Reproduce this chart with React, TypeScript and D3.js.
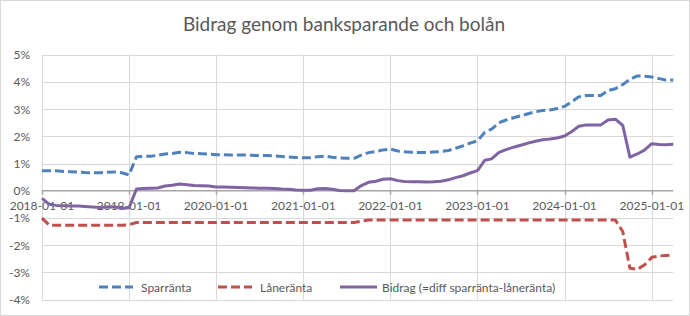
import * as d3 from "d3";
import { useEffect, useRef } from "react";

// months Jan 2018 .. Apr 2025
const months = d3.timeMonth.range(new Date(2018, 0, 1), new Date(2025, 4, 1));

const sparranta = [
  0.73, 0.73, 0.73, 0.71, 0.7, 0.69, 0.67, 0.66, 0.66, 0.68, 0.69, 0.66,
  0.58, 1.25, 1.26, 1.27, 1.3, 1.35, 1.37, 1.41, 1.4, 1.37, 1.36, 1.35,
  1.32, 1.32, 1.31, 1.31, 1.31, 1.3, 1.29, 1.29, 1.28, 1.26, 1.24, 1.22,
  1.21, 1.21, 1.25, 1.27, 1.23, 1.2, 1.19, 1.19, 1.31, 1.4, 1.44, 1.5,
  1.53, 1.46, 1.43, 1.41, 1.4, 1.4, 1.42, 1.44, 1.48, 1.56, 1.65, 1.75,
  1.83, 2.15, 2.26, 2.5, 2.6, 2.68, 2.75, 2.83, 2.9, 2.95, 2.97, 3.02,
  3.1, 3.28, 3.45, 3.5, 3.5, 3.5, 3.68, 3.75, 3.9, 4.09, 4.22, 4.21,
  4.18, 4.12, 4.07, 4.07,
];

const laneranta = [
  -1.01, -1.27, -1.27, -1.27, -1.27, -1.27, -1.27, -1.27, -1.27, -1.27, -1.27, -1.27,
  -1.25, -1.17, -1.17, -1.17, -1.17, -1.17, -1.17, -1.17, -1.17, -1.17, -1.17, -1.17,
  -1.17, -1.17, -1.17, -1.17, -1.17, -1.17, -1.17, -1.17, -1.17, -1.17, -1.17, -1.17,
  -1.17, -1.17, -1.17, -1.17, -1.17, -1.17, -1.17, -1.17, -1.12, -1.08, -1.08, -1.08,
  -1.08, -1.08, -1.08, -1.08, -1.08, -1.08, -1.08, -1.08, -1.08, -1.08, -1.08, -1.08,
  -1.08, -1.08, -1.08, -1.08, -1.08, -1.08, -1.08, -1.08, -1.08, -1.08, -1.08, -1.08,
  -1.08, -1.08, -1.08, -1.08, -1.08, -1.08, -1.08, -1.08, -1.5, -2.85, -2.89, -2.73,
  -2.45, -2.4, -2.38, -2.36,
];

const bidrag = [
  -0.28, -0.5, -0.54, -0.55, -0.56, -0.56, -0.58, -0.6, -0.62, -0.6, -0.59, -0.65,
  -0.63, 0.06, 0.08, 0.09, 0.1, 0.17, 0.2, 0.25, 0.22, 0.19, 0.18, 0.17,
  0.14, 0.14, 0.13, 0.12, 0.11, 0.1, 0.09, 0.09, 0.08, 0.06, 0.05, 0.03,
  0.02, 0.02, 0.07, 0.08, 0.05, 0.01, 0.0, 0.0, 0.19, 0.31, 0.35, 0.42,
  0.44, 0.37, 0.34, 0.33, 0.33, 0.32, 0.33, 0.35, 0.4, 0.48, 0.55, 0.65,
  0.74, 1.12, 1.17, 1.41, 1.51, 1.6, 1.67, 1.75, 1.82, 1.87, 1.9, 1.94,
  2.01, 2.18, 2.37, 2.42, 2.42, 2.42, 2.6, 2.63, 2.4, 1.23, 1.35, 1.49,
  1.73, 1.7, 1.69, 1.71,
];

const yTicks = [-4, -3, -2, -1, 0, 1, 2, 3, 4, 5];
const xTicks = d3.timeYear.range(new Date(2018, 0, 1), new Date(2025, 1, 1));

const seriesNames = ["Sparränta", "Låneränta", "Bidrag (=diff sparränta-låneränta)"];
const seriesData = [sparranta, laneranta, bidrag];
const colors = ["#4F81BD", "#C0504D", "#8064A2"];
const dashes = ["9 4", "9 4", null];

const W = 690;
const H = 316;
const FONT = "Lato, 'Open Sans', sans-serif";
const GREY = "#595959";

export default function App() {
  const ref = useRef<SVGSVGElement>(null);

  useEffect(() => {
    const svg = d3.select(ref.current);
    svg.selectAll("*").remove();

    const x = d3
      .scaleTime()
      .domain([months[0], months[months.length - 1]])
      .range([42, 673.3]);
    const y = d3.scaleLinear().domain([-4, 5]).range([299.5, 54.7]);

    // chart border
    svg
      .append("rect")
      .attr("x", 0.5)
      .attr("y", 0.5)
      .attr("width", W - 1)
      .attr("height", H - 1)
      .attr("fill", "#fff")
      .attr("stroke", "#d9d9d9");

    svg
      .append("text")
      .attr("x", 344)
      .attr("y", 30.5)
      .attr("text-anchor", "middle")
      .attr("font-family", FONT)
      .attr("font-size", 19)
      .attr("fill", GREY)
      .text("Bidrag genom banksparande och bolån");

    // gridlines
    const grid = svg.append("g").attr("stroke", "#d9d9d9").attr("stroke-width", 1);
    grid
      .selectAll("line.h")
      .data(yTicks.filter((d) => d !== 0))
      .enter()
      .append("line")
      .attr("x1", x.range()[0])
      .attr("x2", x.range()[1])
      .attr("y1", (d) => Math.round(y(d)) + 0.5)
      .attr("y2", (d) => Math.round(y(d)) + 0.5);
    grid
      .selectAll("line.v")
      .data(xTicks)
      .enter()
      .append("line")
      .attr("x1", (d) => Math.round(x(d)) + 0.5)
      .attr("x2", (d) => Math.round(x(d)) + 0.5)
      .attr("y1", y(5))
      .attr("y2", y(-4));

    // y labels
    svg
      .append("g")
      .selectAll("text")
      .data(yTicks)
      .enter()
      .append("text")
      .attr("x", 30)
      .attr("y", (d) => y(d) + 4.5)
      .attr("text-anchor", "end")
      .attr("font-family", FONT)
      .attr("font-size", 12)
      .attr("fill", GREY)
      .text((d) => `${d}%`);

    // x labels at the zero line
    svg
      .append("g")
      .selectAll("text")
      .data(xTicks)
      .enter()
      .append("text")
      .attr("x", (d) => x(d))
      .attr("y", y(0) + 19.5)
      .attr("text-anchor", "middle")
      .attr("font-family", FONT)
      .attr("font-size", 12)
      .attr("fill", GREY)
      .text((d) => d3.timeFormat("%Y-%m-%d")(d));

    // zero axis + ticks
    const axis = svg.append("g").attr("stroke", "#a6a6a6").attr("stroke-width", 1.5);
    axis
      .append("line")
      .attr("x1", x.range()[0])
      .attr("x2", x.range()[1])
      .attr("y1", y(0))
      .attr("y2", y(0));
    axis
      .selectAll("line.t")
      .data(xTicks)
      .enter()
      .append("line")
      .attr("x1", (d) => Math.round(x(d)) + 0.5)
      .attr("x2", (d) => Math.round(x(d)) + 0.5)
      .attr("y1", y(0))
      .attr("y2", y(0) + 4);

    // series
    seriesData.forEach((vals, i) => {
      const line = d3
        .line<number>()
        .x((_, j) => x(months[j]))
        .y((d) => y(d));
      svg
        .append("path")
        .datum(vals)
        .attr("d", line)
        .attr("fill", "none")
        .attr("stroke", colors[i])
        .attr("stroke-width", 3)
        .attr("stroke-linejoin", "round")
        .attr("stroke-dasharray", dashes[i]);
    });

    // legend
    const legendX = [99, 218, 340];
    const lg = svg
      .append("g")
      .selectAll("g")
      .data(seriesNames)
      .enter()
      .append("g")
      .attr("transform", (_, i) => `translate(${legendX[i]},287)`);
    lg.append("line")
      .attr("x1", 0)
      .attr("x2", (_, i) => (i === 2 ? 37 : 34))
      .attr("stroke", (_, i) => colors[i])
      .attr("stroke-width", 3)
      .attr("stroke-dasharray", (_, i) => dashes[i]);
    lg.append("text")
      .attr("x", 42)
      .attr("y", 4.5)
      .attr("font-family", FONT)
      .attr("font-size", 12)
      .attr("fill", GREY)
      .text((d) => d);
  }, []);

  return (
    <svg
      ref={ref}
      width={W}
      height={H}
      style={{ position: "absolute", left: 0, top: 0 }}
    />
  );
}
